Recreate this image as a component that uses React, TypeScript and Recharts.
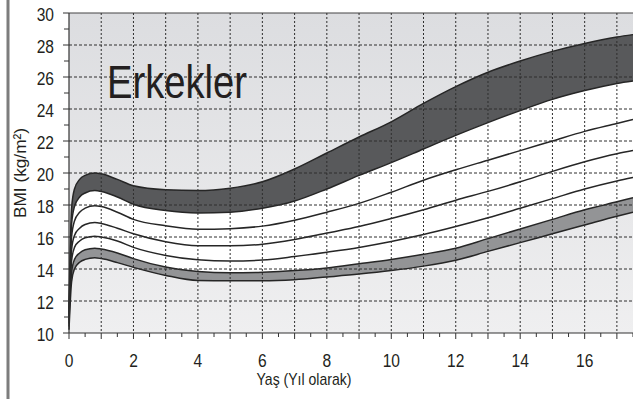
import React from 'react';
import { ComposedChart, Area, Line, XAxis, YAxis, CartesianGrid, ReferenceLine } from 'recharts';

// age in years
const ages = [0, 0.08, 0.17, 0.33, 0.5, 0.8, 1, 1.5, 2, 3, 4, 5, 6, 7, 8, 9, 10, 11, 12, 13, 14, 15, 16, 17, 17.5];

// percentile curves, top to bottom
const p97 = [11.5, 17.8, 19.0, 19.6, 19.85, 20.0, 19.95, 19.6, 19.2, 18.95, 18.9, 19.05, 19.45, 20.25, 21.25, 22.25, 23.2, 24.35, 25.4, 26.3, 27.0, 27.6, 28.1, 28.5, 28.65];
const p90 = [11.2, 16.8, 17.9, 18.5, 18.75, 18.9, 18.85, 18.5, 18.05, 17.65, 17.5, 17.55, 17.8, 18.25, 19.0, 19.85, 20.65, 21.5, 22.35, 23.15, 23.9, 24.6, 25.15, 25.6, 25.75];
const p75 = [11.0, 16.0, 17.0, 17.55, 17.8, 17.95, 17.9, 17.55, 17.1, 16.7, 16.48, 16.52, 16.68, 17.05, 17.55, 18.1, 18.8, 19.55, 20.2, 20.8, 21.4, 22.0, 22.6, 23.1, 23.35];
const p50 = [10.8, 15.2, 16.1, 16.55, 16.78, 16.9, 16.85, 16.55, 16.2, 15.7, 15.45, 15.45, 15.55, 15.85, 16.25, 16.65, 17.15, 17.7, 18.3, 18.85, 19.45, 20.1, 20.7, 21.2, 21.4];
const p25 = [10.6, 14.5, 15.35, 15.75, 15.95, 16.05, 16.0, 15.75, 15.35, 14.85, 14.58, 14.5, 14.56, 14.78, 15.05, 15.35, 15.72, 16.15, 16.65, 17.2, 17.8, 18.4, 19.0, 19.5, 19.72];
const p10 = [10.4, 13.8, 14.6, 15.0, 15.2, 15.3, 15.25, 15.0, 14.65, 14.12, 13.85, 13.76, 13.8, 13.9, 14.07, 14.33, 14.6, 14.92, 15.3, 15.9, 16.5, 17.1, 17.7, 18.2, 18.45];
const p3 = [10.2, 13.2, 14.0, 14.42, 14.6, 14.7, 14.65, 14.4, 14.1, 13.6, 13.28, 13.26, 13.26, 13.33, 13.5, 13.68, 13.9, 14.18, 14.55, 15.1, 15.65, 16.2, 16.75, 17.3, 17.55];

const xTicks = [0, 0.5, 1, 1.5, 2, 2.5, 3, 3.5, 4, 4.5, 5, 5.5, 6, 6.5, 7, 7.5, 8, 8.5, 9, 9.5, 10, 10.5, 11, 11.5, 12, 12.5, 13, 13.5, 14, 14.5, 15, 15.5, 16, 16.5, 17, 17.5];
const yTicks = [10, 11, 12, 13, 14, 15, 16, 17, 18, 19, 20, 21, 22, 23, 24, 25, 26, 27, 28, 29, 30];
const gridYears = [1, 2, 3, 4, 5, 6, 7, 8, 9, 10, 11, 12, 13, 14, 15, 16, 17];
const gridBmi = [12, 14, 16, 18, 20, 22, 24, 26, 28];

const data = ages.map((age, i) => ({
  age,
  p97: p97[i],
  p90: p90[i],
  p75: p75[i],
  p50: p50[i],
  p25: p25[i],
  p10: p10[i],
  p3: p3[i],
}));

const FONT = '"Liberation Sans", Arial, sans-serif';
const INK = '#231f20';
const LINE = '#262626';

const XTick = (props: any) => {
  const { x, y, payload } = props;
  const v = payload.value;
  const whole = Number.isInteger(v);
  return (
    <g>
      <line x1={x} x2={x} y1={y} y2={y + (whole ? 6 : 4)} stroke="#333" strokeWidth={1} />
      {whole && v % 2 === 0 && (
        <text
          transform={`translate(${x},${y + 34}) scale(0.82,1)`}
          textAnchor="middle"
          fontSize={19}
          fontFamily={FONT}
          fill={INK}
        >
          {v}
        </text>
      )}
    </g>
  );
};

const YTick = (props: any) => {
  const { x, y, payload } = props;
  const v = payload.value;
  const even = v % 2 === 0;
  return (
    <g>
      <line x1={x - (even ? 6 : 5)} x2={x} y1={y} y2={y} stroke="#333" strokeWidth={1} />
      {even && (
        <text
          transform={`translate(${x - 15},${y + 8}) scale(0.82,1)`}
          textAnchor="end"
          fontSize={19}
          fontFamily={FONT}
          fill={INK}
        >
          {v}
        </text>
      )}
    </g>
  );
};

export default function App() {
  return (
    <div style={{ position: 'absolute', left: 0, top: 0, width: 633, height: 399, background: '#fff', overflow: 'hidden' }}>
      <ComposedChart width={633} height={399} data={data} margin={{ top: 13, right: 0, bottom: 0, left: 0 }}>
        <defs>
          <linearGradient id="bg" gradientUnits="userSpaceOnUse" x1="0" y1="13" x2="0" y2="333">
            <stop offset="0%" stopColor="#dcdde0" />
            <stop offset="100%" stopColor="#efeff0" />
          </linearGradient>
        </defs>
        <CartesianGrid horizontal={false} vertical={false} fill="url(#bg)" />
        <XAxis
          dataKey="age"
          type="number"
          domain={[0, 17.5]}
          ticks={xTicks}
          interval={0}
          height={66}
          tickSize={0}
          tickMargin={0}
          tickLine={false}
          tick={<XTick />}
          axisLine={{ stroke: '#333', strokeWidth: 1.2 }}
        />
        <YAxis
          type="number"
          domain={[10, 30]}
          ticks={yTicks}
          interval={0}
          width={69}
          tickSize={0}
          tickMargin={0}
          tickLine={false}
          tick={<YTick />}
          axisLine={{ stroke: '#333', strokeWidth: 1.2 }}
        />
        <Area type="monotone" dataKey="p97" baseValue="dataMin" fill="#58595b" fillOpacity={1} stroke={LINE} strokeWidth={1.5} isAnimationActive={false} />
        <Area type="monotone" dataKey="p90" baseValue="dataMin" fill="#ffffff" fillOpacity={1} stroke={LINE} strokeWidth={1.5} isAnimationActive={false} />
        <Area type="monotone" dataKey="p10" baseValue="dataMin" fill="#939496" fillOpacity={1} stroke={LINE} strokeWidth={1.5} isAnimationActive={false} />
        <Area type="monotone" dataKey="p3" baseValue="dataMin" fill="url(#bg)" fillOpacity={1} stroke={LINE} strokeWidth={1.5} isAnimationActive={false} />
        <Line type="monotone" dataKey="p75" stroke={LINE} strokeWidth={1.5} dot={false} isAnimationActive={false} />
        <Line type="monotone" dataKey="p50" stroke={LINE} strokeWidth={1.5} dot={false} isAnimationActive={false} />
        <Line type="monotone" dataKey="p25" stroke={LINE} strokeWidth={1.5} dot={false} isAnimationActive={false} />
        <CartesianGrid vertical={false} horizontalValues={gridBmi} stroke="#2e2e2e" strokeDasharray="3 2" zIndex={600} />
        <CartesianGrid horizontal={false} verticalValues={gridYears} stroke="#2e2e2e" strokeDasharray="2 2" zIndex={600} />
        <ReferenceLine y={30} stroke="#444" strokeWidth={1.2} />
      </ComposedChart>
      <svg width={633} height={399} style={{ position: 'absolute', left: 0, top: 0, pointerEvents: 'none' }}>
        <rect x={6.5} y={0} width={3} height={399} fill="#7d7d7d" />
        <text x={107} y={98} fontSize={47} fontFamily={FONT} fill={INK} textLength={140} lengthAdjust="spacingAndGlyphs">
          Erkekler
        </text>
        <text x={304} y={385} fontSize={17} fontFamily={FONT} fill={INK} textAnchor="middle" textLength={95} lengthAdjust="spacingAndGlyphs">
          Yaş (Yıl olarak)
        </text>
        <text
          transform="translate(26,173) rotate(-90)"
          fontSize={17}
          fontFamily={FONT}
          fill={INK}
          textAnchor="middle"
          textLength={90}
          lengthAdjust="spacingAndGlyphs"
        >
          BMI (kg/m²)
        </text>
      </svg>
    </div>
  );
}
